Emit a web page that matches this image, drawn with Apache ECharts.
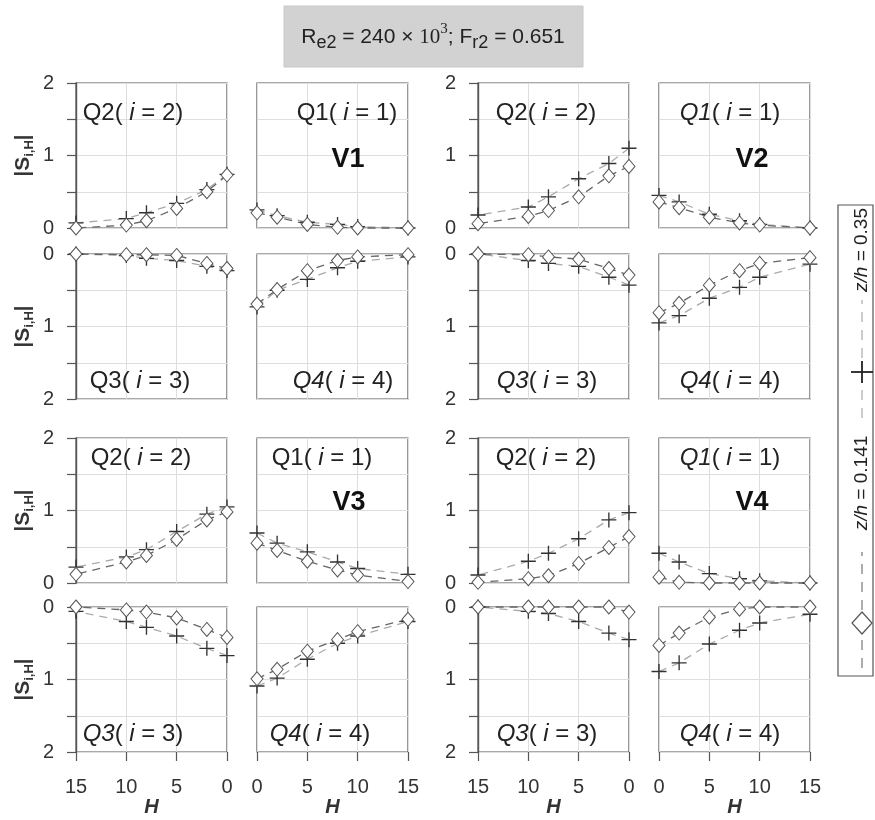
<!DOCTYPE html>
<html><head><meta charset="utf-8">
<script src="https://cdn.jsdelivr.net/npm/echarts@6/dist/echarts.min.js"></script>
<style>html,body{margin:0;padding:0;background:#fff}#c{width:875px;height:820px}</style>
</head><body><div id="c"></div>
<script>
// H positions (x) and tick labels
const H = [0, 2, 5, 8, 10, 15];
const xTickValues = [0, 5, 10, 15];
const yTickValues = [0, 1, 2];
// values listed for H = 0, 2, 5, 8, 10, 15 ; d = z/h 0.141 (diamond), p = z/h 0.35 (plus)
const v1q2d = [0.73, 0.50, 0.27, 0.10, 0.04, 0.00];
const v1q2p = [0.74, 0.53, 0.34, 0.21, 0.13, 0.07];
const v1q1d = [0.21, 0.15, 0.05, 0.01, 0.00, 0.00];
const v1q1p = [0.25, 0.17, 0.08, 0.05, 0.02, 0.00];
const v1q3d = [0.20, 0.13, 0.02, 0.01, 0.01, 0.00];
const v1q3p = [0.23, 0.17, 0.09, 0.06, 0.02, 0.00];
const v1q4d = [0.69, 0.49, 0.23, 0.09, 0.04, 0.01];
const v1q4p = [0.73, 0.50, 0.35, 0.19, 0.10, 0.04];

const v2q2d = [0.85, 0.72, 0.43, 0.24, 0.16, 0.06];
const v2q2p = [1.10, 0.89, 0.68, 0.43, 0.29, 0.18];
const v2q1d = [0.36, 0.28, 0.15, 0.07, 0.04, 0.00];
const v2q1p = [0.45, 0.36, 0.19, 0.10, 0.05, 0.00];
const v2q3d = [0.29, 0.20, 0.07, 0.04, 0.01, 0.00];
const v2q3p = [0.43, 0.32, 0.17, 0.13, 0.09, 0.00];
const v2q4d = [0.81, 0.68, 0.43, 0.23, 0.13, 0.05];
const v2q4p = [0.95, 0.85, 0.61, 0.46, 0.32, 0.14];

const v3q2d = [0.98, 0.87, 0.60, 0.38, 0.29, 0.12];
const v3q2p = [1.05, 0.95, 0.71, 0.46, 0.36, 0.22];
const v3q1d = [0.55, 0.45, 0.30, 0.18, 0.11, 0.02];
const v3q1p = [0.69, 0.55, 0.43, 0.29, 0.20, 0.12];
const v3q3d = [0.42, 0.31, 0.15, 0.07, 0.04, 0.00];
const v3q3p = [0.67, 0.57, 0.40, 0.28, 0.20, 0.06];
const v3q4d = [0.99, 0.86, 0.61, 0.45, 0.34, 0.17];
const v3q4p = [1.09, 0.98, 0.72, 0.50, 0.40, 0.20];

const v4q2d = [0.64, 0.49, 0.27, 0.10, 0.06, 0.01];
const v4q2p = [0.97, 0.87, 0.61, 0.41, 0.30, 0.11];
const v4q1d = [0.08, 0.01, 0.00, 0.00, 0.00, 0.00];
const v4q1p = [0.41, 0.29, 0.13, 0.06, 0.03, 0.00];
const v4q3d = [0.07, 0.00, 0.00, 0.00, 0.00, 0.00];
const v4q3p = [0.45, 0.36, 0.20, 0.09, 0.06, 0.00];
const v4q4d = [0.53, 0.36, 0.14, 0.03, 0.00, 0.00];
const v4q4p = [0.89, 0.77, 0.51, 0.32, 0.22, 0.10];

const seriesNames = ['z/h = 0.141', 'z/h = 0.35'];
const caseNames = ['V1', 'V2', 'V3', 'V4'];

// layout
const colLeft = [76, 257, 478, 659];
const rowTop = [83, 254, 438, 607];
const PW = 151, PH = 145;
const FONT = 'Liberation Sans, Arial, sans-serif';

// [col, row, diamond, plus, label, qItalic, labelCx, labelCy]
const panels = [
  [0, 0, v1q2d, v1q2p, ['Q2', '2'], false, 133, 113],
  [1, 0, v1q1d, v1q1p, ['Q1', '1'], false, 347, 113],
  [0, 1, v1q3d, v1q3p, ['Q3', '3'], false, 140, 381],
  [1, 1, v1q4d, v1q4p, ['Q4', '4'], true, 343, 381],
  [2, 0, v2q2d, v2q2p, ['Q2', '2'], false, 546, 113],
  [3, 0, v2q1d, v2q1p, ['Q1', '1'], true, 730, 113],
  [2, 1, v2q3d, v2q3p, ['Q3', '3'], true, 547, 381],
  [3, 1, v2q4d, v2q4p, ['Q4', '4'], true, 730, 381],
  [0, 2, v3q2d, v3q2p, ['Q2', '2'], false, 141, 458],
  [1, 2, v3q1d, v3q1p, ['Q1', '1'], false, 322, 458],
  [0, 3, v3q3d, v3q3p, ['Q3', '3'], true, 133, 734],
  [1, 3, v3q4d, v3q4p, ['Q4', '4'], true, 320, 734],
  [2, 2, v4q2d, v4q2p, ['Q2', '2'], false, 546, 458],
  [3, 2, v4q1d, v4q1p, ['Q1', '1'], true, 730, 458],
  [2, 3, v4q3d, v4q3p, ['Q3', '3'], true, 547, 734],
  [3, 3, v4q4d, v4q4p, ['Q4', '4'], true, 730, 734]
];
const caseLabelPos = [[348, 160], [752, 160], [349, 503], [752, 503]];

const PLUS = 'path://M-0.9,-10H0.9V-0.9H10V0.9H0.9V10H-0.9V0.9H-10V-0.9H-0.9Z';

const grid = [], xAxis = [], yAxis = [], series = [], graphic = [];

panels.forEach((pn, k) => {
  const [col, row, dArr, pArr, lab, qIt, lx, ly] = pn;
  const leftCol = col % 2 === 0;
  const invY = row % 2 === 1;
  const bottom = row === 3;
  grid.push({ left: colLeft[col], top: rowTop[row], width: PW, height: PH,
    show: true, borderColor: '#555', borderWidth: 1.2, backgroundColor: 'transparent' });
  xAxis.push({
    gridIndex: k, type: 'value', min: 0, max: 15, interval: 2.5, inverse: leftCol, position: 'bottom',
    axisLine: { show: false, onZero: false },
    axisTick: { show: bottom, length: 9, customValues: xTickValues, lineStyle: { color: '#555', width: 1.2 } },
    axisLabel: { show: bottom, formatter: v => (xTickValues.indexOf(v) >= 0 ? String(v) : ''),
      fontSize: 20, color: '#333', fontFamily: FONT, margin: 25 },
    splitLine: { show: true, lineStyle: { color: '#dedede', width: 1 } },
    name: bottom ? 'H' : '', nameLocation: 'middle', nameGap: 45,
    nameTextStyle: { fontSize: 20, fontWeight: 'bold', fontStyle: 'italic', color: '#333', fontFamily: FONT }
  });
  yAxis.push({
    gridIndex: k, type: 'value', min: 0, max: 2, interval: 0.5, inverse: invY, position: 'left',
    axisLine: { show: leftCol, onZero: false, lineStyle: { color: '#555', width: 1.4 } },
    axisTick: { show: leftCol, length: 9, lineStyle: { color: '#555', width: 1.2 } },
    axisLabel: { show: leftCol, formatter: v => (yTickValues.indexOf(v) >= 0 ? String(v) : ''),
      fontSize: 20, color: '#333', fontFamily: FONT, margin: 22 },
    splitLine: { show: true, lineStyle: { color: '#dedede', width: 1 } },
    name: col === 0 ? '|{s|S}{sub|i,H}|' : '', nameLocation: 'middle', nameGap: 40, nameRotate: 90,
    nameTextStyle: { fontSize: 20, fontWeight: 'bold', color: '#333', fontFamily: FONT, lineHeight: 26,
      rich: { s: { fontSize: 21, fontWeight: 'bold', color: '#333', fontFamily: FONT, lineHeight: 26 },
              sub: { fontSize: 13, fontWeight: 'bold', color: '#333', fontFamily: FONT, lineHeight: 14, verticalAlign: 'bottom' } } }
  });
  series.push({
    name: seriesNames[1], type: 'line', xAxisIndex: k, yAxisIndex: k,
    data: H.map((h, i) => [h, pArr[i]]), clip: false,
    symbol: PLUS, symbolSize: 15,
    itemStyle: { color: '#333' },
    lineStyle: { color: '#aaa', width: 1.3, type: [8, 6] }
  });
  series.push({
    name: seriesNames[0], type: 'line', xAxisIndex: k, yAxisIndex: k,
    data: H.map((h, i) => [h, dArr[i]]), clip: false,
    symbol: 'diamond', symbolSize: [12, 14],
    itemStyle: { color: '#fff', borderColor: '#555', borderWidth: 1 },
    lineStyle: { color: '#666', width: 1.3, type: [8, 6] }
  });
  graphic.push({
    type: 'text', x: lx, y: ly, z: 10,
    style: {
      text: '{' + (qIt ? 'qi' : 'q') + '|' + lab[0] + '}{a|( }{i|i}{a| = ' + lab[1] + ')}',
      align: 'center', verticalAlign: 'middle',
      rich: {
        q: { fontSize: 24, fontFamily: FONT, fill: '#222' },
        qi: { fontSize: 24, fontFamily: FONT, fontStyle: 'italic', fill: '#222' },
        a: { fontSize: 24, fontFamily: FONT, fill: '#222' },
        i: { fontSize: 24, fontFamily: FONT, fontStyle: 'italic', fill: '#222' }
      }
    }
  });
});

caseNames.forEach((c, i) => {
  graphic.push({ type: 'text', x: caseLabelPos[i][0], y: caseLabelPos[i][1], z: 10,
    style: { text: c, fontSize: 27, fontWeight: 'bold', fontFamily: FONT, fill: '#111', align: 'center', verticalAlign: 'middle' } });
});

// title box
graphic.push({ type: 'rect', shape: { x: 284, y: 6, width: 299, height: 61 }, style: { fill: '#d2d2d2', stroke: '#c8c8c8' }, z: 1 });
graphic.push({ type: 'text', x: 433, y: 37, z: 2,
  style: {
    text: '{n|R}{s|e2}{n| = 240 × }{t|10}{p|3}{n|; F}{s|r2}{n| = 0.651}',
    align: 'center', verticalAlign: 'middle',
    rich: {
      n: { fontSize: 21, fontFamily: FONT, fill: '#222', lineHeight: 30 },
      s: { fontSize: 18, fontFamily: FONT, fill: '#222', lineHeight: 17, verticalAlign: 'bottom' },
      t: { fontSize: 21, fontFamily: 'Liberation Serif, Times New Roman, serif', fill: '#222', lineHeight: 30 },
      p: { fontSize: 15, fontFamily: 'Liberation Serif, Times New Roman, serif', fill: '#222', lineHeight: 14, verticalAlign: 'top' }
    }
  } });

// legend box (vertical, rotated)
graphic.push({ type: 'rect', shape: { x: 838, y: 205, width: 35, height: 471 }, style: { fill: '#fff', stroke: '#555', lineWidth: 1.2 }, z: 1 });
const LX = 862;
[[668, 638, '#777'], [610, 552, '#777'], [418, 386, '#aaa'], [358, 300, '#aaa']].forEach(s => {
  graphic.push({ type: 'line', shape: { x1: LX, y1: s[0], x2: LX, y2: s[1] }, style: { stroke: s[2], lineWidth: 1.2, lineDash: [10, 8] }, z: 2 });
});
graphic.push({ type: 'polygon', shape: { points: [[LX, 612], [LX + 10, 623], [LX, 634], [LX - 10, 623]] }, style: { fill: '#fff', stroke: '#555', lineWidth: 1.2 }, z: 3 });
graphic.push({ type: 'line', shape: { x1: LX, y1: 361, x2: LX, y2: 383 }, style: { stroke: '#222', lineWidth: 1.8 }, z: 3 });
graphic.push({ type: 'line', shape: { x1: LX - 11, y1: 372, x2: LX + 11, y2: 372 }, style: { stroke: '#222', lineWidth: 1.8 }, z: 3 });
[[483, '0.141'], [250, '0.35']].forEach(t => {
  graphic.push({ type: 'text', x: LX, y: t[0], rotation: Math.PI / 2, z: 3,
    style: { text: '{i|z/h}{n| = ' + t[1] + '}', align: 'center', verticalAlign: 'middle',
      rich: { i: { fontSize: 19, fontStyle: 'italic', fontFamily: FONT, fill: '#222' },
              n: { fontSize: 19, fontFamily: FONT, fill: '#222' } } } });
});

const chart = echarts.init(document.getElementById('c'), null, { renderer: 'canvas' });
chart.setOption({ animation: false, backgroundColor: '#fff', grid, xAxis, yAxis, series, graphic });
</script>
</body></html>
